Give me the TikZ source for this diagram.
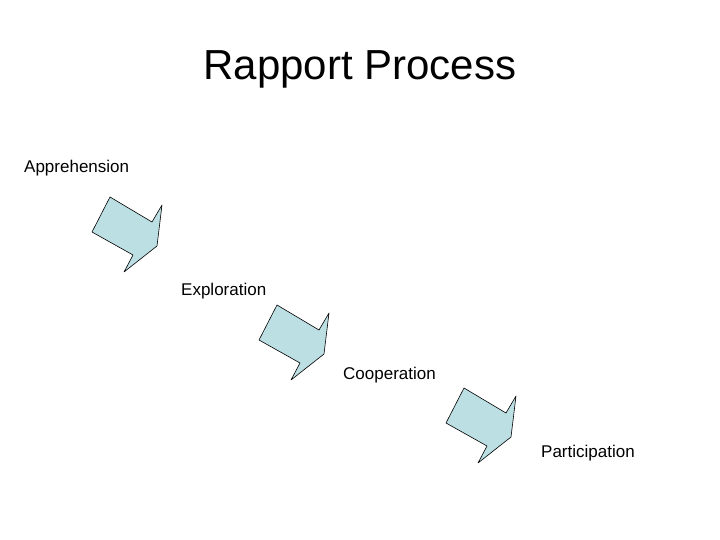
\documentclass[tikz,border=0pt]{standalone}
\usepackage{fontspec}
\setmainfont{Liberation Sans}
\begin{document}
\begin{tikzpicture}[x=1pt,y=-1pt,
  lbl/.style={anchor=west,inner sep=0pt,font=\fontsize{17}{20}\selectfont},
  arr/.style={draw=black,fill=cyan!15!teal!25!white,fill=arrowfill,line width=0.6pt,line join=round}]
\definecolor{arrowfill}{RGB}{188,223,227}
\useasboundingbox (0,0) rectangle (720,540);
\node[inner sep=0pt,font=\fontsize{42}{48}\selectfont] (title) at (360,69) {Rapport Process};
\node[lbl] (a) at (24,168) {Apprehension};
\node[lbl] (b) at (181,291) {Exploration};
\node[lbl] (c) at (343,375) {Cooperation};
\node[lbl] (d) at (541,453) {Participation};
\foreach \n/\dx/\dy in {1/0/0,2/167/108,3/354/191}{
  \draw[arr,shift={(\dx,\dy)}] (110,197) -- (152,222) -- (162,205) -- (157,246) -- (124,272) -- (133,255) -- (92,232) -- cycle;
}
\end{tikzpicture}
\end{document}
